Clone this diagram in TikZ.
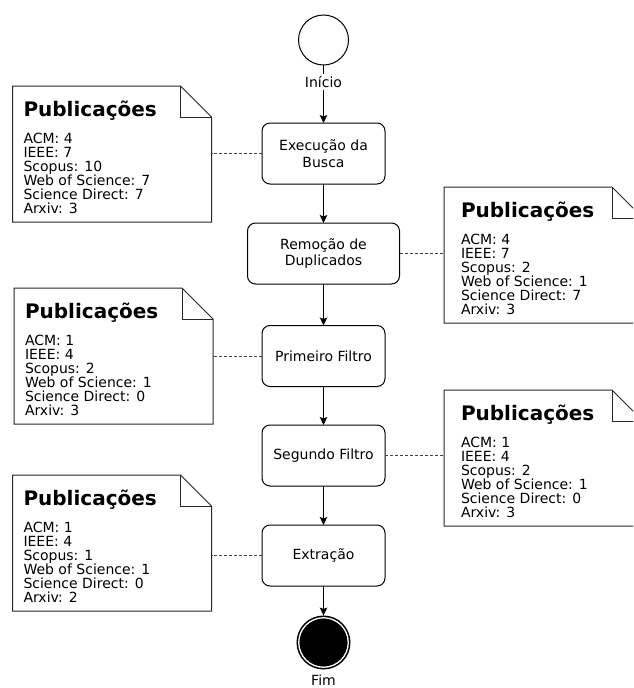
\documentclass[tikz,border=0pt]{standalone}
\usepackage{fontspec}
\setmainfont{DejaVu Sans}
\usetikzlibrary{arrows.meta,calc}
\newcommand\notepanel[4]{%
  \node[noteframe] (#1) at (#2,#3) {};
  \draw[noteline] (#1.north west) -- ([xshift=-31pt]#1.north east) -- ([yshift=-31pt]#1.north east) -- (#1.south east) -- (#1.south west) -- cycle;
  \draw[noteline] ([xshift=-31pt]#1.north east) -- ([xshift=-31pt,yshift=-31pt]#1.north east) -- ([yshift=-31pt]#1.north east);
  \node[notetitle] (#1t) at ($(#1.north west)+(#4,30)$) {Publicações};
}
\begin{document}
\begin{tikzpicture}[x=1pt,y=-1pt,
  every node/.style={inner sep=0pt, outer sep=0pt},
  stepbox/.style={draw=black, line width=1pt, rounded corners=8pt, minimum height=61pt, align=center, font=\fontsize{14}{16.5}\selectfont},
  flow/.style={draw=black, line width=1pt, -{Stealth[length=8pt,width=7.5pt,inset=1.5pt]}},
  link/.style={draw=black!75, line width=1pt, dash pattern=on 3pt off 2pt},
  noteline/.style={draw=black!85, line width=1pt, line join=miter},
  noteframe/.style={rectangle, minimum width=199pt, minimum height=136pt, anchor=north west},
  notetitle/.style={anchor=base west, font=\fontsize{20}{20}\bfseries\selectfont},
  notebody/.style={anchor=north west, align=left, font=\fontsize{14}{14}\selectfont},
  lbl/.style={font=\fontsize{14}{14}\selectfont, fill=white, inner sep=2pt}
]
\clip (0,0) rectangle (633,688);

% start / end
\node[circle, draw=black, line width=1pt, minimum size=50pt] (start) at (323.5,40) {};
\node[lbl] (ini) at (323.5,82) {Início};
\node[circle, fill=black, draw=black, line width=1.6pt, double=white, double distance=1.3pt, minimum size=49.5pt] (fim) at (323.5,642.5) {};
\node[font=\fontsize{14}{14}\selectfont, inner sep=0pt] (fimlbl) at (323.5,680.5) {Fim};

% steps
\node[stepbox, minimum width=123pt] (b1) at (323.5,153.5) {Execução da\\Busca};
\node[stepbox, minimum width=152pt] (b2) at (323.5,253.5) {Remoção de\\Duplicados};
\node[stepbox, minimum width=123pt] (b3) at (323.5,356) {Primeiro Filtro};
\node[stepbox, minimum width=123pt] (b4) at (323.5,455.5) {Segundo Filtro};
\node[stepbox, minimum width=123pt] (b5) at (323.5,555.5) {Extração};

% notes
\notepanel{n1}{12.5}{86}{11}
\node[notebody] (n1b) at ($(n1.north west)+(11,46)$) {\rule{0pt}{11pt}ACM: 4\\IEEE: 7\\Scopus: 10\\Web of Science: 7\\Science Direct: 7\\Arxiv: 3};
\notepanel{n2}{444}{187}{17}
\node[notebody] (n2b) at ($(n2.north west)+(17,46)$) {\rule{0pt}{11pt}ACM: 4\\IEEE: 7\\Scopus: 2\\Web of Science: 1\\Science Direct: 7\\Arxiv: 3};
\notepanel{n3}{14}{288}{11}
\node[notebody] (n3b) at ($(n3.north west)+(11,46)$) {\rule{0pt}{11pt}ACM: 1\\IEEE: 4\\Scopus: 2\\Web of Science: 1\\Science Direct: 0\\Arxiv: 3};
\notepanel{n4}{444}{390}{17}
\node[notebody] (n4b) at ($(n4.north west)+(17,46)$) {\rule{0pt}{11pt}ACM: 1\\IEEE: 4\\Scopus: 2\\Web of Science: 1\\Science Direct: 0\\Arxiv: 3};
\notepanel{n5}{12.5}{475}{11}
\node[notebody] (n5b) at ($(n5.north west)+(11,46)$) {\rule{0pt}{11pt}ACM: 1\\IEEE: 4\\Scopus: 1\\Web of Science: 1\\Science Direct: 0\\Arxiv: 2};

% flow connectors
\draw[line width=1pt] (start.south) -- (ini.north);
\draw[flow] (ini.south) -- (b1.north);
\draw[flow] (b1.south) -- (b2.north);
\draw[flow] (b2.south) -- (b3.north);
\draw[flow] (b3.south) -- (b4.north);
\draw[flow] (b4.south) -- (b5.north);
\draw[flow, shorten >=2.2pt] (b5.south) -- (fim.north);

% note links
\draw[link] (b1.west) -- (b1.west -| n1.east);
\draw[link] (b2.east) -- (b2.east -| n2.west);
\draw[link] (b3.west) -- (b3.west -| n3.east);
\draw[link] (b4.east) -- (b4.east -| n4.west);
\draw[link] (b5.west) -- (b5.west -| n5.east);
\end{tikzpicture}
\end{document}
